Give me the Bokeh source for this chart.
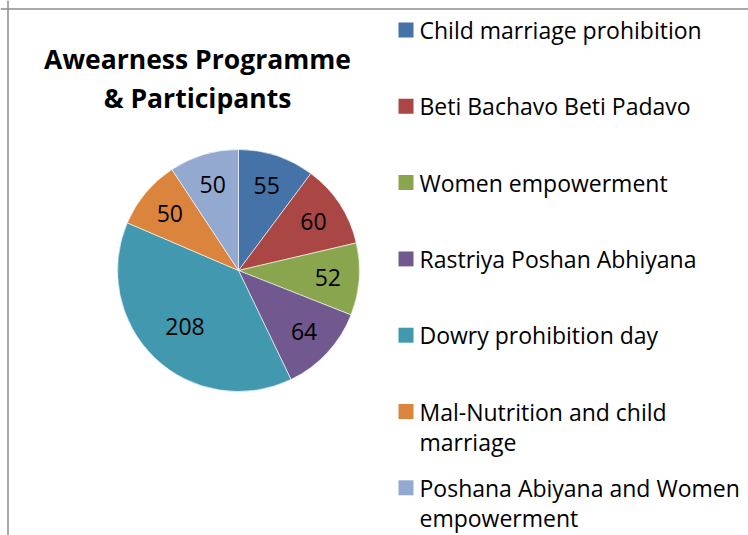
import textwrap
import numpy as np
from bokeh.plotting import figure
from bokeh.models import Range1d, ColumnDataSource, Span
from bokeh.core.properties import value
from bokeh.embed import file_html
from bokeh.resources import INLINE

# ---- data ----
categories = [
    "Child marriage prohibition",
    "Beti Bachavo Beti Padavo",
    "Women empowerment",
    "Rastriya Poshan Abhiyana",
    "Dowry prohibition day",
    "Mal-Nutrition and child marriage",
    "Poshana Abiyana and Women empowerment",
]
participants = [55, 60, 52, 64, 208, 50, 50]
colors = ["#4572A7", "#AA4643", "#89A54E", "#71588F", "#4198AF", "#DB843D", "#93A9CF"]
title_lines = ["Awearness Programme", "& Participants"]

# ---- layout ----
W, H = 748, 535
FONT = "Open Sans"


def px(x):
    return x


def py(y):
    return -y


p = figure(width=W, height=H, output_backend="svg", toolbar_location=None,
           x_range=Range1d(0, W), y_range=Range1d(-H, 0), min_border=0, tools="")
p.axis.visible = False
p.grid.visible = False
p.outline_line_color = None
p.background_fill_color = "white"
p.border_fill_color = "white"

p.add_layout(Span(location=px(7.5), dimension="height", line_color="#8c8c8c", line_width=1.5))
p.add_layout(Span(location=py(8.5), dimension="width", line_color="#8c8c8c", line_width=1.5))

# ---- pie ----
cx, cy, r = px(238), py(270), 121
vals = np.array(participants, dtype=float)
total = vals.sum()
cum = np.concatenate([[0.0], np.cumsum(vals)])
start = np.pi / 2 - 2 * np.pi * cum[:-1] / total
end = np.pi / 2 - 2 * np.pi * cum[1:] / total
mid = (start + end) / 2
frac = np.where(vals / total > 0.3, 0.64, 0.74)
src = ColumnDataSource(dict(
    start=start, end=end, color=colors,
    lx=cx + frac * r * np.cos(mid), ly=cy + frac * r * np.sin(mid),
    label=[str(v) for v in participants],
))
p.wedge(x=cx, y=cy, radius=r, start_angle="start", end_angle="end", direction="clock",
        fill_color="color", line_color="white", line_width=0.6, source=src)
p.text(x="lx", y="ly", text="label", source=src, text_font=value(FONT),
       text_font_size="23px", text_align="center", text_baseline="middle", text_color="black")

# ---- title ----
p.text(x=[px(197)] * len(title_lines), y=[py(58 + 39 * i) for i in range(len(title_lines))],
       text=title_lines, text_font=value(FONT), text_font_size="26.5px", text_font_style="bold",
       text_align="center", text_baseline="middle", text_color="black")

# ---- legend (manual) ----
step = 76.3
sq_x, sq_y, tx, tys, tt = [], [], [], [], []
for i, name in enumerate(categories):
    yc = 29.5 + step * i
    sq_x.append(px(405.5))
    sq_y.append(py(yc))
    for j, line in enumerate(textwrap.wrap(name, 26)):
        tx.append(px(419))
        tys.append(py(yc + 30 * j))
        tt.append(line)
p.rect(x=sq_x, y=sq_y, width=15, height=15, fill_color=colors, line_color=None)
p.text(x=tx, y=tys, text=tt, text_font=value(FONT), text_font_size="23px",
       text_align="left", text_baseline="middle", text_color="black")

open("out.html", "w").write(file_html(p, INLINE))
